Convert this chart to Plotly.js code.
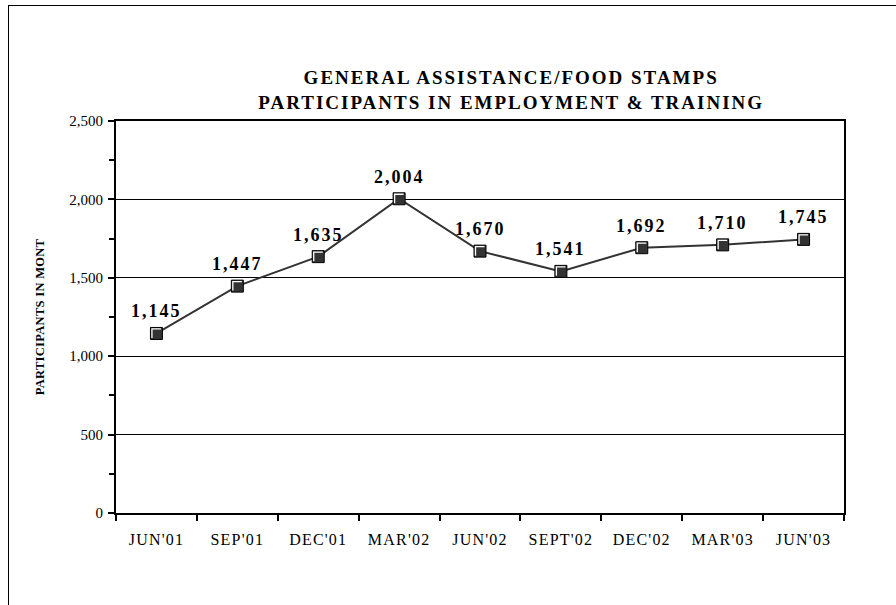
<!DOCTYPE html>
<html>
<head>
<meta charset="utf-8">
<script src="https://cdn.plot.ly/plotly-3.0.1.min.js"></script>
<style>
html,body{margin:0;padding:0;background:#fff;}
#wrap{position:relative;width:896px;height:605px;}
#chart{width:896px;height:605px;}
#frame{position:absolute;left:8px;top:5px;right:0;bottom:0;border-left:1.5px solid #000;border-top:1.5px solid #000;pointer-events:none;}
#chart .gtitle{letter-spacing:2px;}
#chart .xtick text{letter-spacing:1.2px;}
#chart .annotation-text{letter-spacing:2px;}
#chart .ytitle{letter-spacing:0.3px;}
</style>
</head>
<body>
<div id="wrap"><div id="chart"></div><div id="frame"></div></div>
<script>
const categories = ["JUN'01","SEP'01","DEC'01","MAR'02","JUN'02","SEPT'02","DEC'02","MAR'03","JUN'03"];
const participants = [1145, 1447, 1635, 2004, 1670, 1541, 1692, 1710, 1745];
const yTickVals = [0, 500, 1000, 1500, 2000, 2500];
const yTickText = ["0", "500", "1,000", "1,500", "2,000", "2,500"];

const serif = "Liberation Serif, Times New Roman, serif";

const trace = {
  x: categories,
  y: participants,
  type: 'scatter',
  mode: 'lines+markers',
  line: {color: '#333333', width: 2},
  marker: {symbol: 'square', size: 12, color: '#333333', line: {color: '#000000', width: 1}},
  hoverinfo: 'x+y',
  showlegend: false
};

const annotations = categories.map((c, i) => ({
  x: c, y: participants[i], xref: 'x', yref: 'y',
  text: '<b>' + participants[i].toLocaleString('en-US') + '</b>',
  showarrow: false, yshift: 22,
  font: {family: serif, size: 18, color: '#000'}
}));

// white bevel highlight on each marker (top and left inner edges)
const shapes = categories.map((c, i) => ({
  type: 'path', layer: 'above',
  xref: 'x', yref: 'y',
  xsizemode: 'pixel', ysizemode: 'pixel',
  xanchor: c, yanchor: participants[i],
  path: 'M-4.5,-4.5 L-4.5,4.5 L4.5,4.5',
  line: {color: '#ffffff', width: 1.3}
}));

const layout = {
  width: 896, height: 605,
  margin: {l: 116, r: 52, t: 121, b: 92},
  paper_bgcolor: '#fff', plot_bgcolor: '#fff',
  title: {
    text: '<b>GENERAL ASSISTANCE/FOOD STAMPS<br>PARTICIPANTS IN EMPLOYMENT & TRAINING</b>',
    font: {family: serif, size: 19, color: '#000'},
    x: 0.5705, xanchor: 'center', y: 0.861, yanchor: 'middle'
  },
  xaxis: {
    type: 'category',
    tickson: 'boundaries',
    ticks: 'outside', ticklen: 6, tickwidth: 2, tickcolor: '#000',
    ticklabelstandoff: 11,
    showline: true, linecolor: '#000', linewidth: 2, mirror: true,
    showgrid: false, zeroline: false,
    tickfont: {family: serif, size: 16, color: '#000'},
    range: [-0.5, 8.5]
  },
  yaxis: {
    range: [0, 2500],
    tickvals: yTickVals, ticktext: yTickText,
    ticks: 'outside', ticklen: 6, tickwidth: 2, tickcolor: '#000',
    ticklabelstandoff: 2,
    minor: {dtick: 250, tick0: 0, ticks: 'outside', ticklen: 5, tickwidth: 2, tickcolor: '#000', showgrid: false},
    showline: true, linecolor: '#000', linewidth: 2, mirror: true,
    showgrid: true, gridcolor: '#000', gridwidth: 1, zeroline: false,
    tickfont: {family: serif, size: 15, color: '#000'},
    title: {text: '<b>PARTICIPANTS IN MONT</b>', font: {family: serif, size: 12.5, color: '#000'}, standoff: 22}
  },
  annotations: annotations,
  shapes: shapes
};

Plotly.newPlot('chart', [trace], layout, {displayModeBar: false, staticPlot: true});
</script>
</body>
</html>
